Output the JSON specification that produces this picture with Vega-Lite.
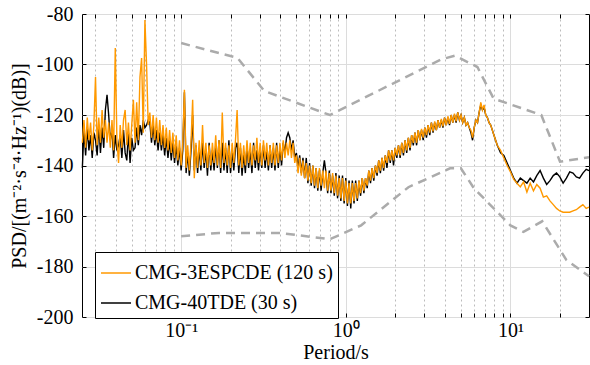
{
 "$schema": "https://vega.github.io/schema/vega-lite/v6.json",
 "width": 507,
 "height": 303,
 "autosize": {"type": "none"},
 "padding": {"left": 82, "top": 14, "right": 1, "bottom": 48},
 "background": "white",
 "config": {
  "view": {"stroke": "black", "strokeWidth": 1},
  "font": "Liberation Serif",
  "axis": {"labelFont": "Liberation Serif", "titleFont": "Liberation Serif", "labelColor": "black", "titleColor": "black", "titleFontWeight": "normal", "tickColor": "black", "domain": false}
 },
 "datasets": {
  "nm": [
   {"m": "NHNM", "p": 0.1, "v": -91.5}, {"m": "NHNM", "p": 0.22, "v": -97.4}, {"m": "NHNM", "p": 0.32, "v": -110.5}, {"m": "NHNM", "p": 0.8, "v": -120.0}, {"m": "NHNM", "p": 3.8, "v": -98.0}, {"m": "NHNM", "p": 4.6, "v": -96.5}, {"m": "NHNM", "p": 6.3, "v": -101.0}, {"m": "NHNM", "p": 7.9, "v": -113.5}, {"m": "NHNM", "p": 15.4, "v": -120.0}, {"m": "NHNM", "p": 20, "v": -138.5}, {"m": "NHNM", "p": 30, "v": -136.7},
   {"m": "NLNM", "p": 0.1, "v": -168.0}, {"m": "NLNM", "p": 0.17, "v": -166.7}, {"m": "NLNM", "p": 0.4, "v": -166.7}, {"m": "NLNM", "p": 0.8, "v": -169.2}, {"m": "NLNM", "p": 1.24, "v": -163.7}, {"m": "NLNM", "p": 2.4, "v": -148.6}, {"m": "NLNM", "p": 4.3, "v": -141.1}, {"m": "NLNM", "p": 5.0, "v": -141.1}, {"m": "NLNM", "p": 6.0, "v": -149.0}, {"m": "NLNM", "p": 10.0, "v": -163.75}, {"m": "NLNM", "p": 12.0, "v": -166.3}, {"m": "NLNM", "p": 15.6, "v": -162.1}, {"m": "NLNM", "p": 21.9, "v": -177.5}, {"m": "NLNM", "p": 30, "v": -183.9}
  ],
  "psd": [
   {"p": 0.02512, "o": -131, "b": -141}, {"p": 0.02570, "o": -122, "b": -126}, {"p": 0.02630, "o": -133, "b": -136}, {"p": 0.02692, "o": -121, "b": -125},
   {"p": 0.02754, "o": -130, "b": -134}, {"p": 0.02818, "o": -123, "b": -128}, {"p": 0.02884, "o": -134, "b": -137}, {"p": 0.02951, "o": -124, "b": -127},
   {"p": 0.03020, "o": -105, "b": -130}, {"p": 0.03090, "o": -132, "b": -136}, {"p": 0.03162, "o": -121, "b": -124}, {"p": 0.03236, "o": -131, "b": -135},
   {"p": 0.03311, "o": -118, "b": -125}, {"p": 0.03388, "o": -129, "b": -133}, {"p": 0.03467, "o": -122, "b": -118}, {"p": 0.03548, "o": -131, "b": -112},
   {"p": 0.03631, "o": -123, "b": -120}, {"p": 0.03715, "o": -133, "b": -130}, {"p": 0.03802, "o": -122, "b": -126}, {"p": 0.03890, "o": -134, "b": -137},
   {"p": 0.03981, "o": -93.5, "b": -128}, {"p": 0.04074, "o": -130, "b": -134}, {"p": 0.04169, "o": -139, "b": -132}, {"p": 0.04266, "o": -124, "b": -128},
   {"p": 0.04365, "o": -133, "b": -137}, {"p": 0.04467, "o": -122, "b": -126}, {"p": 0.04571, "o": -118, "b": -135}, {"p": 0.04677, "o": -132, "b": -138},
   {"p": 0.04786, "o": -123, "b": -127}, {"p": 0.04898, "o": -134, "b": -139}, {"p": 0.05012, "o": -124, "b": -129}, {"p": 0.05129, "o": -114, "b": -134},
   {"p": 0.05248, "o": -131, "b": -133}, {"p": 0.05370, "o": -115, "b": -125}, {"p": 0.05495, "o": -130, "b": -132}, {"p": 0.05623, "o": -105, "b": -124},
   {"p": 0.05754, "o": -97.4, "b": -128}, {"p": 0.05888, "o": -127, "b": -122}, {"p": 0.06026, "o": -82.4, "b": -125}, {"p": 0.06166, "o": -100, "b": -124},
   {"p": 0.06310, "o": -124, "b": -122}, {"p": 0.06457, "o": -119, "b": -123}, {"p": 0.06607, "o": -129, "b": -131}, {"p": 0.06761, "o": -120, "b": -124},
   {"p": 0.06918, "o": -130, "b": -132}, {"p": 0.07079, "o": -121, "b": -126}, {"p": 0.07244, "o": -131, "b": -134}, {"p": 0.07413, "o": -122, "b": -127},
   {"p": 0.07586, "o": -132, "b": -134}, {"p": 0.07762, "o": -124, "b": -128}, {"p": 0.07943, "o": -133, "b": -136}, {"p": 0.08128, "o": -125, "b": -129},
   {"p": 0.08318, "o": -134, "b": -137}, {"p": 0.08511, "o": -126, "b": -130}, {"p": 0.08710, "o": -135, "b": -138}, {"p": 0.08913, "o": -127, "b": -131},
   {"p": 0.09120, "o": -137, "b": -139}, {"p": 0.09333, "o": -128, "b": -132}, {"p": 0.09550, "o": -138, "b": -140}, {"p": 0.09772, "o": -130, "b": -133},
   {"p": 0.1000, "o": -140, "b": -142}, {"p": 0.1023, "o": -131, "b": -134}, {"p": 0.1047, "o": -110, "b": -111}, {"p": 0.1072, "o": -141, "b": -143},
   {"p": 0.1096, "o": -132, "b": -135}, {"p": 0.1122, "o": -142, "b": -144}, {"p": 0.1148, "o": -131, "b": -134}, {"p": 0.1175, "o": -114, "b": -120},
   {"p": 0.1202, "o": -145, "b": -142}, {"p": 0.1230, "o": -131, "b": -132}, {"p": 0.1259, "o": -141, "b": -143}, {"p": 0.1288, "o": -130, "b": -133},
   {"p": 0.1318, "o": -140, "b": -142}, {"p": 0.1349, "o": -124, "b": -131}, {"p": 0.1380, "o": -139, "b": -141}, {"p": 0.1413, "o": -131, "b": -134},
   {"p": 0.1445, "o": -141, "b": -144}, {"p": 0.1479, "o": -132, "b": -131}, {"p": 0.1514, "o": -140, "b": -142}, {"p": 0.1549, "o": -131, "b": -134},
   {"p": 0.1585, "o": -139, "b": -142}, {"p": 0.1622, "o": -128, "b": -132}, {"p": 0.1660, "o": -140, "b": -141}, {"p": 0.1698, "o": -130, "b": -130},
   {"p": 0.1738, "o": -141, "b": -143}, {"p": 0.1778, "o": -119, "b": -131}, {"p": 0.1820, "o": -139, "b": -142}, {"p": 0.1862, "o": -131, "b": -133},
   {"p": 0.1905, "o": -140, "b": -143}, {"p": 0.1950, "o": -132, "b": -130}, {"p": 0.1995, "o": -141, "b": -143}, {"p": 0.2042, "o": -131, "b": -134},
   {"p": 0.2089, "o": -139, "b": -142}, {"p": 0.2138, "o": -130, "b": -133}, {"p": 0.2188, "o": -118, "b": -131}, {"p": 0.2239, "o": -140, "b": -143},
   {"p": 0.2291, "o": -131, "b": -133}, {"p": 0.2344, "o": -141, "b": -144}, {"p": 0.2399, "o": -132, "b": -135}, {"p": 0.2455, "o": -140, "b": -143},
   {"p": 0.2512, "o": -130, "b": -132}, {"p": 0.2570, "o": -139, "b": -141}, {"p": 0.2630, "o": -131, "b": -134}, {"p": 0.2692, "o": -140, "b": -143},
   {"p": 0.2754, "o": -132, "b": -131}, {"p": 0.2818, "o": -138, "b": -141}, {"p": 0.2884, "o": -129, "b": -134}, {"p": 0.2951, "o": -139, "b": -142},
   {"p": 0.3020, "o": -131, "b": -133}, {"p": 0.3090, "o": -140, "b": -141}, {"p": 0.3162, "o": -130, "b": -132}, {"p": 0.3236, "o": -138, "b": -141},
   {"p": 0.3311, "o": -131, "b": -134}, {"p": 0.3388, "o": -140, "b": -142}, {"p": 0.3467, "o": -132, "b": -132}, {"p": 0.3548, "o": -139, "b": -141},
   {"p": 0.3631, "o": -131, "b": -133}, {"p": 0.3715, "o": -140, "b": -142}, {"p": 0.3802, "o": -132, "b": -131}, {"p": 0.3890, "o": -139, "b": -141},
   {"p": 0.3981, "o": -131, "b": -133}, {"p": 0.4074, "o": -138, "b": -140}, {"p": 0.4169, "o": -130, "b": -131}, {"p": 0.4266, "o": -137, "b": -135},
   {"p": 0.4365, "o": -131, "b": -129}, {"p": 0.4467, "o": -136, "b": -127}, {"p": 0.4571, "o": -130, "b": -129}, {"p": 0.4677, "o": -137, "b": -134},
   {"p": 0.4786, "o": -131, "b": -130}, {"p": 0.4898, "o": -139, "b": -137}, {"p": 0.5012, "o": -136, "b": -135}, {"p": 0.5129, "o": -143, "b": -141},
   {"p": 0.5248, "o": -137, "b": -136}, {"p": 0.5370, "o": -144, "b": -143}, {"p": 0.5495, "o": -138, "b": -137}, {"p": 0.5623, "o": -145, "b": -145},
   {"p": 0.5754, "o": -139, "b": -137}, {"p": 0.5888, "o": -146, "b": -147}, {"p": 0.6026, "o": -140, "b": -139}, {"p": 0.6166, "o": -147, "b": -148},
   {"p": 0.6310, "o": -140, "b": -140}, {"p": 0.6457, "o": -148, "b": -149}, {"p": 0.6607, "o": -141, "b": -141}, {"p": 0.6761, "o": -149, "b": -150},
   {"p": 0.6918, "o": -141, "b": -142}, {"p": 0.7079, "o": -148, "b": -150}, {"p": 0.7244, "o": -142, "b": -143}, {"p": 0.7413, "o": -149, "b": -138},
   {"p": 0.7586, "o": -142, "b": -143}, {"p": 0.7762, "o": -150, "b": -151}, {"p": 0.7943, "o": -143, "b": -142}, {"p": 0.8128, "o": -150, "b": -151},
   {"p": 0.8318, "o": -143, "b": -144}, {"p": 0.8511, "o": -151, "b": -152}, {"p": 0.8710, "o": -144, "b": -143}, {"p": 0.8913, "o": -152, "b": -153},
   {"p": 0.9120, "o": -145, "b": -144}, {"p": 0.9333, "o": -153, "b": -154}, {"p": 0.9550, "o": -145, "b": -144}, {"p": 0.9772, "o": -154, "b": -155},
   {"p": 1.000, "o": -146, "b": -145}, {"p": 1.023, "o": -155, "b": -156}, {"p": 1.047, "o": -147, "b": -146}, {"p": 1.072, "o": -155, "b": -157},
   {"p": 1.096, "o": -147, "b": -146}, {"p": 1.122, "o": -154, "b": -155}, {"p": 1.148, "o": -147, "b": -146}, {"p": 1.175, "o": -153, "b": -154},
   {"p": 1.202, "o": -146, "b": -146}, {"p": 1.230, "o": -151, "b": -152}, {"p": 1.259, "o": -145, "b": -145}, {"p": 1.288, "o": -150, "b": -151},
   {"p": 1.318, "o": -145, "b": -145}, {"p": 1.349, "o": -148, "b": -149}, {"p": 1.380, "o": -142, "b": -142}, {"p": 1.413, "o": -146, "b": -147},
   {"p": 1.445, "o": -141, "b": -141}, {"p": 1.479, "o": -145, "b": -146}, {"p": 1.514, "o": -140, "b": -140}, {"p": 1.549, "o": -143, "b": -144},
   {"p": 1.585, "o": -138, "b": -138}, {"p": 1.622, "o": -142, "b": -143}, {"p": 1.660, "o": -137, "b": -137}, {"p": 1.698, "o": -141, "b": -142},
   {"p": 1.738, "o": -136, "b": -136}, {"p": 1.778, "o": -139, "b": -141}, {"p": 1.820, "o": -134, "b": -134}, {"p": 1.862, "o": -138, "b": -139},
   {"p": 1.905, "o": -134, "b": -134}, {"p": 1.950, "o": -138, "b": -140}, {"p": 1.995, "o": -133, "b": -133}, {"p": 2.042, "o": -136, "b": -137},
   {"p": 2.089, "o": -132, "b": -132}, {"p": 2.138, "o": -136, "b": -137}, {"p": 2.188, "o": -131, "b": -131}, {"p": 2.239, "o": -135, "b": -136},
   {"p": 2.291, "o": -130, "b": -130}, {"p": 2.344, "o": -134, "b": -135}, {"p": 2.399, "o": -129, "b": -129}, {"p": 2.455, "o": -133, "b": -134},
   {"p": 2.512, "o": -128, "b": -128}, {"p": 2.570, "o": -131, "b": -132}, {"p": 2.630, "o": -127, "b": -127}, {"p": 2.692, "o": -131, "b": -132},
   {"p": 2.754, "o": -126, "b": -126}, {"p": 2.818, "o": -130, "b": -130}, {"p": 2.884, "o": -125.5, "b": -126}, {"p": 2.951, "o": -129, "b": -130},
   {"p": 3.020, "o": -125, "b": -125}, {"p": 3.090, "o": -128, "b": -129}, {"p": 3.162, "o": -124, "b": -124}, {"p": 3.236, "o": -127, "b": -128},
   {"p": 3.311, "o": -123, "b": -123}, {"p": 3.388, "o": -126.5, "b": -127}, {"p": 3.467, "o": -122.5, "b": -123}, {"p": 3.548, "o": -126, "b": -126},
   {"p": 3.631, "o": -122, "b": -122}, {"p": 3.715, "o": -125, "b": -125}, {"p": 3.802, "o": -121.5, "b": -122}, {"p": 3.890, "o": -124.5, "b": -125},
   {"p": 3.981, "o": -121, "b": -121}, {"p": 4.074, "o": -124, "b": -124}, {"p": 4.169, "o": -120.5, "b": -121}, {"p": 4.266, "o": -123.5, "b": -124},
   {"p": 4.365, "o": -120, "b": -120}, {"p": 4.467, "o": -123, "b": -123}, {"p": 4.571, "o": -119.5, "b": -120}, {"p": 4.677, "o": -122.5, "b": -123},
   {"p": 4.786, "o": -119, "b": -119}, {"p": 4.898, "o": -122, "b": -122}, {"p": 5.012, "o": -120, "b": -120}, {"p": 5.129, "o": -123, "b": -123},
   {"p": 5.248, "o": -121, "b": -121}, {"p": 5.370, "o": -124, "b": -124}, {"p": 5.495, "o": -123, "b": -123}, {"p": 5.623, "o": -125, "b": -125},
   {"p": 5.754, "o": -126, "b": -127}, {"p": 5.888, "o": -129, "b": -130}, {"p": 6.026, "o": -125, "b": -125}, {"p": 6.166, "o": -122, "b": -122},
   {"p": 6.310, "o": -123, "b": -123}, {"p": 6.457, "o": -119, "b": -119}, {"p": 6.607, "o": -115, "b": -116}, {"p": 6.761, "o": -118, "b": -118},
   {"p": 6.918, "o": -116, "b": -117}, {"p": 7.079, "o": -120, "b": -120}, {"p": 7.244, "o": -121, "b": -121}, {"p": 7.413, "o": -123, "b": -123},
   {"p": 7.586, "o": -124, "b": -124}, {"p": 7.762, "o": -126, "b": -126}, {"p": 7.943, "o": -128, "b": -128}, {"p": 8.318, "o": -132, "b": -132},
   {"p": 8.710, "o": -134, "b": -135}, {"p": 9.120, "o": -137, "b": -136}, {"p": 9.550, "o": -140, "b": -139}, {"p": 10.00, "o": -142.5, "b": -142},
   {"p": 10.47, "o": -145.5, "b": -145}, {"p": 10.96, "o": -147, "b": -147}, {"p": 11.48, "o": -148.5, "b": -145}, {"p": 12.02, "o": -146.5, "b": -146},
   {"p": 12.59, "o": -150.5, "b": -147}, {"p": 13.18, "o": -147, "b": -145}, {"p": 13.80, "o": -150, "b": -146.5}, {"p": 14.45, "o": -147.5, "b": -144},
   {"p": 15.14, "o": -149, "b": -142}, {"p": 15.85, "o": -152.5, "b": -145}, {"p": 16.60, "o": -152, "b": -147.5}, {"p": 17.38, "o": -154, "b": -146},
   {"p": 18.20, "o": -155.5, "b": -144}, {"p": 19.05, "o": -157, "b": -143}, {"p": 19.95, "o": -158, "b": -144.5}, {"p": 20.89, "o": -158.5, "b": -147},
   {"p": 21.88, "o": -158.5, "b": -145}, {"p": 22.91, "o": -158.5, "b": -142.5}, {"p": 23.99, "o": -158, "b": -143}, {"p": 25.12, "o": -157.5, "b": -144.5},
   {"p": 26.30, "o": -156.5, "b": -145}, {"p": 27.54, "o": -155.5, "b": -143}, {"p": 28.84, "o": -157, "b": -141.5}, {"p": 30.0, "o": -156.5, "b": -142}
  ]
 },
 "layer": [
  {
   "data": {"name": "nm"},
   "mark": {"type": "line", "stroke": "#ababab", "strokeWidth": 2.5, "strokeDash": [9, 6]},
   "encoding": {
    "x": {"field": "p", "type": "quantitative", "scale": {"type": "log", "domain": [0.025, 30], "nice": false},
     "axis": {"orient": "bottom", "values": [0.03, 0.04, 0.05, 0.06, 0.07, 0.08, 0.09, 0.1, 0.2, 0.3, 0.4, 0.5, 0.6, 0.7, 0.8, 0.9, 1, 2, 3, 4, 5, 6, 7, 8, 9, 10, 20],
      "grid": true,
      "gridColor": {"condition": {"test": "datum.value == 0.1 || datum.value == 1 || datum.value == 10", "value": "#dcdcdc"}, "value": "#bcbcbc"},
      "gridDash": {"condition": {"test": "datum.value == 0.1 || datum.value == 1 || datum.value == 10", "value": []}, "value": [2, 3]},
      "ticks": true, "tickSize": -4,
      "labelExpr": "datum.value == 0.1 ? '10⁻¹' : datum.value == 1 ? '10⁰' : datum.value == 10 ? '10¹' : ''",
      "labelFontSize": 20, "labelPadding": 7, "labelOverlap": false, "labelFlush": false,
      "title": "Period/s", "titleFontSize": 20, "titlePadding": 2}},
    "y": {"field": "v", "type": "quantitative", "scale": {"domain": [-200, -80], "nice": false, "zero": false},
     "axis": {"orient": "left", "values": [-200, -180, -160, -140, -120, -100, -80], "grid": true, "gridColor": "#dcdcdc",
      "ticks": true, "tickSize": -4, "labelExpr": "'' + datum.value", "labelFontSize": 20, "labelPadding": 13,
      "title": "PSD/[(m⁻²·s⁻⁴·Hz⁻¹)(dB)]", "titleFontSize": 20, "titlePadding": 7}},
    "detail": {"field": "m"}
   }
  },
  {
   "data": {"name": "psd"},
   "mark": {"type": "line", "strokeWidth": 1.4},
   "encoding": {
    "x": {"field": "p", "type": "quantitative", "scale": {"type": "log", "domain": [0.025, 30], "nice": false},
     "axis": {"orient": "top", "values": [0.03, 0.04, 0.05, 0.06, 0.07, 0.08, 0.09, 0.1, 0.2, 0.3, 0.4, 0.5, 0.6, 0.7, 0.8, 0.9, 1, 2, 3, 4, 5, 6, 7, 8, 9, 10, 20], "grid": false, "labels": false, "ticks": true, "tickSize": -4, "title": null}},
    "y": {"field": "b", "type": "quantitative", "scale": {"domain": [-200, -80], "nice": false, "zero": false},
     "axis": {"orient": "right", "values": [-200, -180, -160, -140, -120, -100, -80], "grid": false, "labels": false, "ticks": true, "tickSize": -4, "title": null}},
    "color": {"datum": "CMG-40TDE (30 s)", "type": "nominal",
     "scale": {"domain": ["CMG-3ESPCDE (120 s)", "CMG-40TDE (30 s)"], "range": ["#ff9900", "#000000"]},
     "legend": {"title": null, "orient": "none", "legendX": 13, "legendY": 238, "direction": "vertical",
      "symbolType": "stroke", "symbolSize": 900, "symbolStrokeWidth": 1.5,
      "labelFontSize": 20, "labelFont": "Liberation Serif", "labelColor": "black", "labelLimit": 400, "labelOffset": 3,
      "strokeColor": "black", "fillColor": "white", "padding": 5, "rowPadding": 4, "cornerRadius": 0}}
   }
  },
  {
   "data": {"name": "psd"},
   "mark": {"type": "line", "strokeWidth": 1.4},
   "encoding": {
    "x": {"field": "p", "type": "quantitative", "scale": {"type": "log", "domain": [0.025, 30], "nice": false}, "axis": null},
    "y": {"field": "o", "type": "quantitative", "scale": {"domain": [-200, -80], "nice": false, "zero": false}, "axis": null},
    "color": {"datum": "CMG-3ESPCDE (120 s)", "type": "nominal"}
   }
  }
 ],
 "resolve": {"axis": {"x": "independent", "y": "independent"}}
}
